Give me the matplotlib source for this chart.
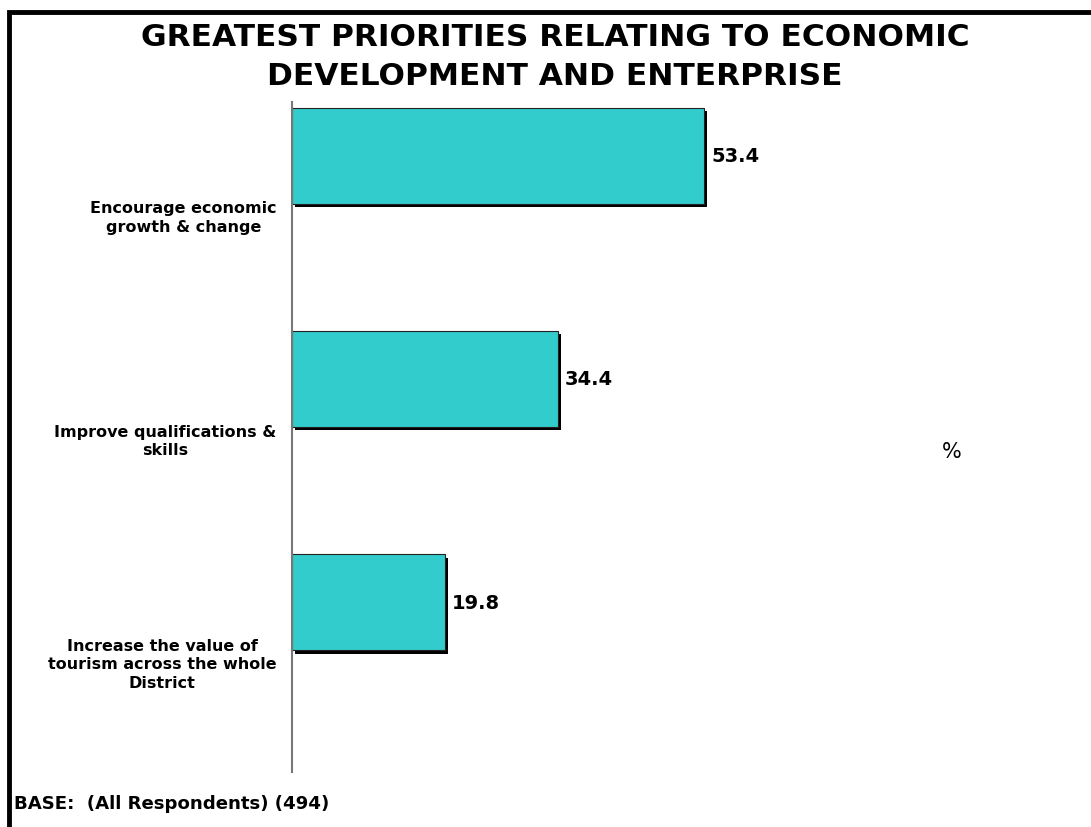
import numpy as np
import matplotlib.pyplot as plt
from matplotlib.patches import Rectangle

plt.rcParams['font.family'] = ['DejaVu Sans']

# DATA
categories = ["Encourage economic\ngrowth & change",
              "Improve qualifications &\nskills",
              "Increase the value of\ntourism across the whole\nDistrict"]
values = [53.4, 34.4, 19.8]
title = "GREATEST PRIORITIES RELATING TO ECONOMIC\nDEVELOPMENT AND ENTERPRISE"
base_note = "BASE:  (All Respondents) (494)"

fig = plt.figure(figsize=(10.91, 8.28), dpi=100)

# frame round the slide (only top and left show)
fig.add_artist(Rectangle((8.5 / 1091, -0.1), 1.2, 1.1 - 12.5 / 828, transform=fig.transFigure,
                         fill=False, edgecolor='black', linewidth=3.5))

ax = fig.add_axes([292 / 1091, 55 / 828, 750 / 1091, 670 / 828])
pos = np.arange(len(categories))
offset = -0.26
height = 0.43

# shadow then bars
ax.barh(pos + offset + 0.015, values, height=height, left=0.4, color='black', zorder=1)
ax.barh(pos + offset, values, height=height, color='#33CCCC', edgecolor='#222222',
        linewidth=0.8, zorder=2)

for p, v in zip(pos, values):
    ax.text(v + 0.9, p + offset, f"{v:.1f}", va='center', ha='left', fontsize=14,
            fontweight='bold')

ax.set_ylim(2.5, -0.5)
ax.set_xlim(0, 750 / 7.72)
ax.set_yticks(pos)
ax.set_yticklabels(categories, fontsize=11.5, fontweight='bold', multialignment='center',
                   linespacing=1.3)
ax.tick_params(axis='y', length=0, pad=11)
ax.set_xticks([])
for s in ['top', 'right', 'bottom']:
    ax.spines[s].set_visible(False)
ax.spines['left'].set_color('#777777')
ax.spines['left'].set_linewidth(1.5)

fig.text(952 / 1091, 1 - 452 / 828, "%", fontsize=15, ha='center', va='center')
fig.text(555 / 1091, 1 - 57 / 828, title, fontsize=22.5, fontweight='bold',
         ha='center', va='center', linespacing=1.45)
fig.text(14 / 1091, 1 - 804 / 828, base_note, fontsize=13.1, fontweight='bold',
         ha='left', va='center')

fig.savefig('out.png', dpi=100)
